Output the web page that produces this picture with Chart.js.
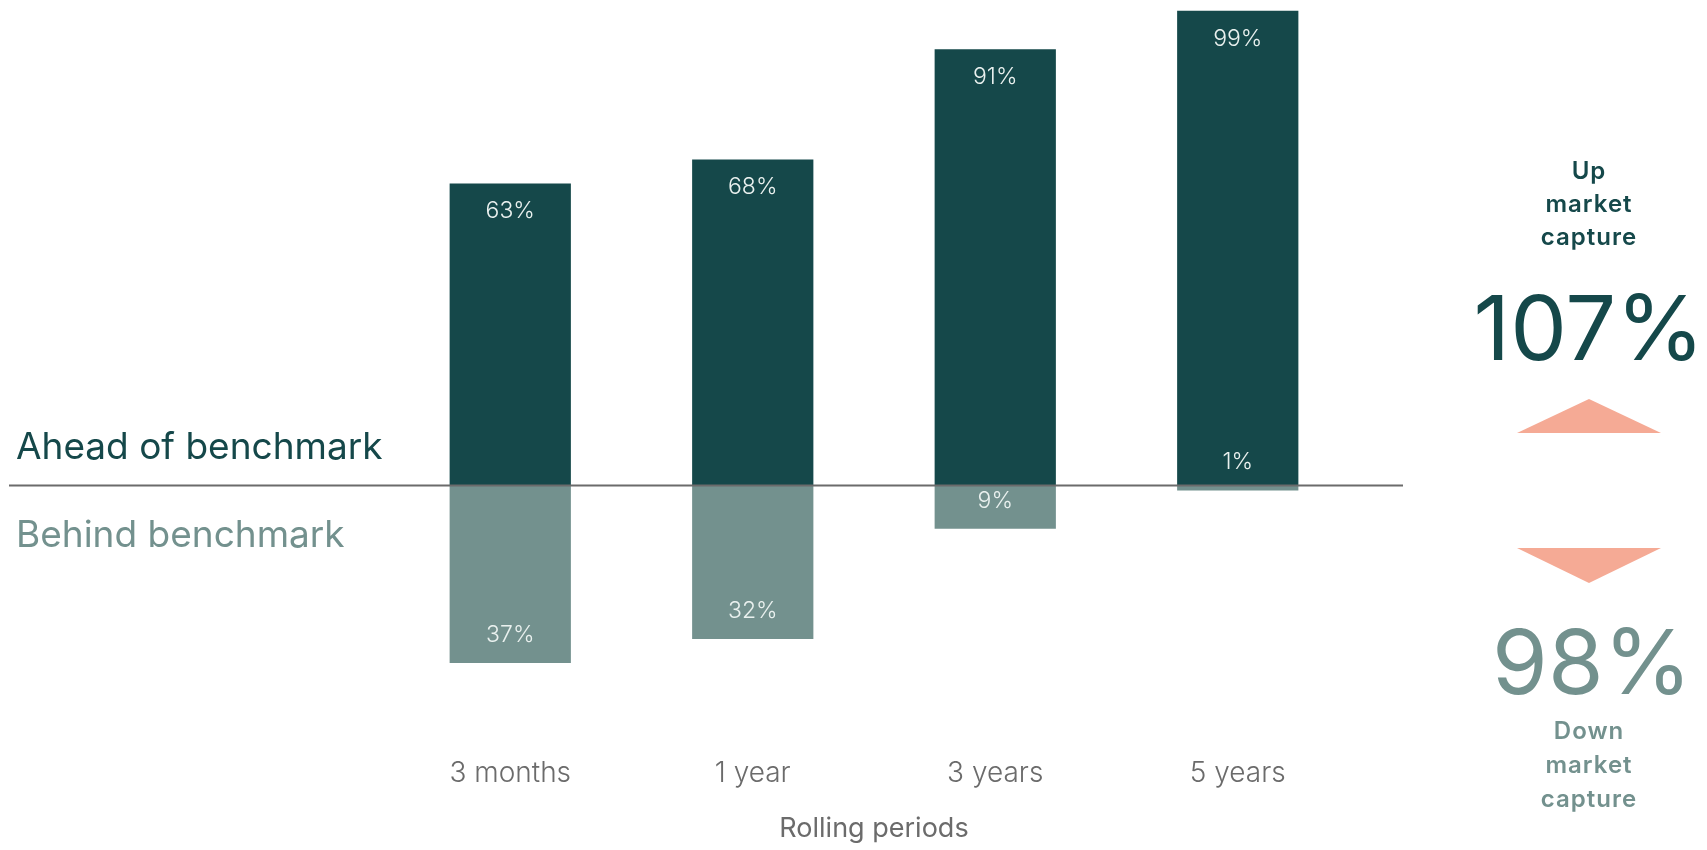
<!DOCTYPE html>
<html>
<head>
<meta charset="utf-8">
<title>Rolling periods vs benchmark</title>
<script src="https://cdn.jsdelivr.net/npm/chart.js@4/dist/chart.umd.min.js"></script>
<style>
  html, body { margin: 0; padding: 0; background: #ffffff; }
  #wrap { width: 1707px; height: 850px; position: relative; }
  canvas { display: block; }
</style>
</head>
<body>
<div id="wrap"><canvas id="chart" width="1707" height="850"></canvas></div>
<script>
// Share of rolling periods ahead of / behind the benchmark (%)
const periods = ['3 months', '1 year', '3 years', '5 years'];
const aheadPct = [63, 68, 91, 99];
const behindPct = [37, 32, 9, 1];

// Market capture ratios (%)
const upCapture = 107;
const downCapture = 98;

const DARK = '#15484a';
const LIGHT = '#73918e';
const SALMON = '#f5aa95';
const GREY = '#6b6b6b';
const FONT = 'Inter, "Noto Sans", Lato, sans-serif';

// Horizontal benchmark line at zero, running under the side labels
const zeroLine = {
  id: 'zeroLine',
  afterDatasetsDraw(chart) {
    const ctx = chart.ctx;
    const y = chart.scales.y.getPixelForValue(0);
    ctx.save();
    ctx.strokeStyle = GREY;
    ctx.lineWidth = 2;
    ctx.beginPath();
    ctx.moveTo(9, y);
    ctx.lineTo(1403, y);
    ctx.stroke();
    ctx.restore();
  }
};

// Percent labels inside each bar, near its outer end
const barLabels = {
  id: 'barLabels',
  afterDatasetsDraw(chart) {
    const ctx = chart.ctx;
    ctx.save();
    ctx.font = '300 23px ' + FONT;
    ctx.fillStyle = '#eaf1ef';
    ctx.textAlign = 'center';
    ctx.textBaseline = 'middle';
    chart.data.datasets.forEach((ds, i) => {
      const meta = chart.getDatasetMeta(i);
      meta.data.forEach((bar, j) => {
        const v = ds.data[j];
        const y = v >= 0 ? bar.y + 28 : bar.y - 28;
        ctx.fillText(Math.abs(v) + '%', bar.x, y);
      });
    });
    ctx.restore();
  }
};

// Side captions: benchmark labels on the left, capture ratios on the right
const sideText = {
  id: 'sideText',
  afterDraw(chart) {
    const ctx = chart.ctx;
    const y0 = chart.scales.y.getPixelForValue(0);
    ctx.save();

    ctx.textAlign = 'left';
    ctx.textBaseline = 'alphabetic';
    ctx.font = '400 37px ' + FONT;
    ctx.fillStyle = DARK;
    ctx.fillText('Ahead of benchmark', 16, y0 - 27);
    ctx.fillStyle = LIGHT;
    ctx.fillText('Behind benchmark', 16, y0 + 61);

    const cx = 1589;
    ctx.textAlign = 'center';
    ctx.font = '600 24px ' + FONT;
    ctx.letterSpacing = '1px';
    ctx.fillStyle = DARK;
    ['Up', 'market', 'capture'].forEach((t, k) => ctx.fillText(t, cx, 179 + k * 33));
    ctx.fillStyle = LIGHT;
    ['Down', 'market', 'capture'].forEach((t, k) => ctx.fillText(t, cx, 739 + k * 34));
    ctx.letterSpacing = '0px';

    ctx.font = '400 90px ' + FONT;
    ctx.fillStyle = DARK;
    ctx.fillText(upCapture + '%', cx, 360);
    ctx.fillStyle = LIGHT;
    ctx.fillText(downCapture + '%', cx + 3, 694);

    ctx.fillStyle = SALMON;
    ctx.beginPath();
    ctx.moveTo(cx, 399);
    ctx.lineTo(cx + 72, 433);
    ctx.lineTo(cx - 72, 433);
    ctx.closePath();
    ctx.fill();
    ctx.beginPath();
    ctx.moveTo(cx - 72, 548);
    ctx.lineTo(cx + 72, 548);
    ctx.lineTo(cx, 583);
    ctx.closePath();
    ctx.fill();

    ctx.restore();
  }
};

new Chart(document.getElementById('chart'), {
  type: 'bar',
  data: {
    labels: periods,
    datasets: [
      { label: 'Ahead of benchmark', data: aheadPct, backgroundColor: DARK },
      { label: 'Behind benchmark', data: behindPct.map(v => -v), backgroundColor: LIGHT }
    ]
  },
  options: {
    responsive: false,
    animation: false,
    devicePixelRatio: 1,
    layout: { padding: { left: 389, right: 348, top: 6, bottom: 0 } },
    datasets: { bar: { categoryPercentage: 0.5, barPercentage: 1, borderWidth: 0 } },
    plugins: { legend: { display: false }, tooltip: { enabled: false } },
    scales: {
      x: {
        stacked: true,
        grid: { display: false, drawTicks: false },
        border: { display: false },
        ticks: { color: GREY, font: { family: FONT, size: 28, weight: '300' }, padding: 22 },
        title: {
          display: true,
          text: 'Rolling periods',
          color: GREY,
          font: { family: FONT, size: 27, weight: '400' },
          padding: { top: 0, bottom: 5 }
        }
      },
      y: { stacked: true, display: false, min: -52, max: 100 }
    }
  },
  plugins: [zeroLine, barLabels, sideText]
});
</script>
</body>
</html>
